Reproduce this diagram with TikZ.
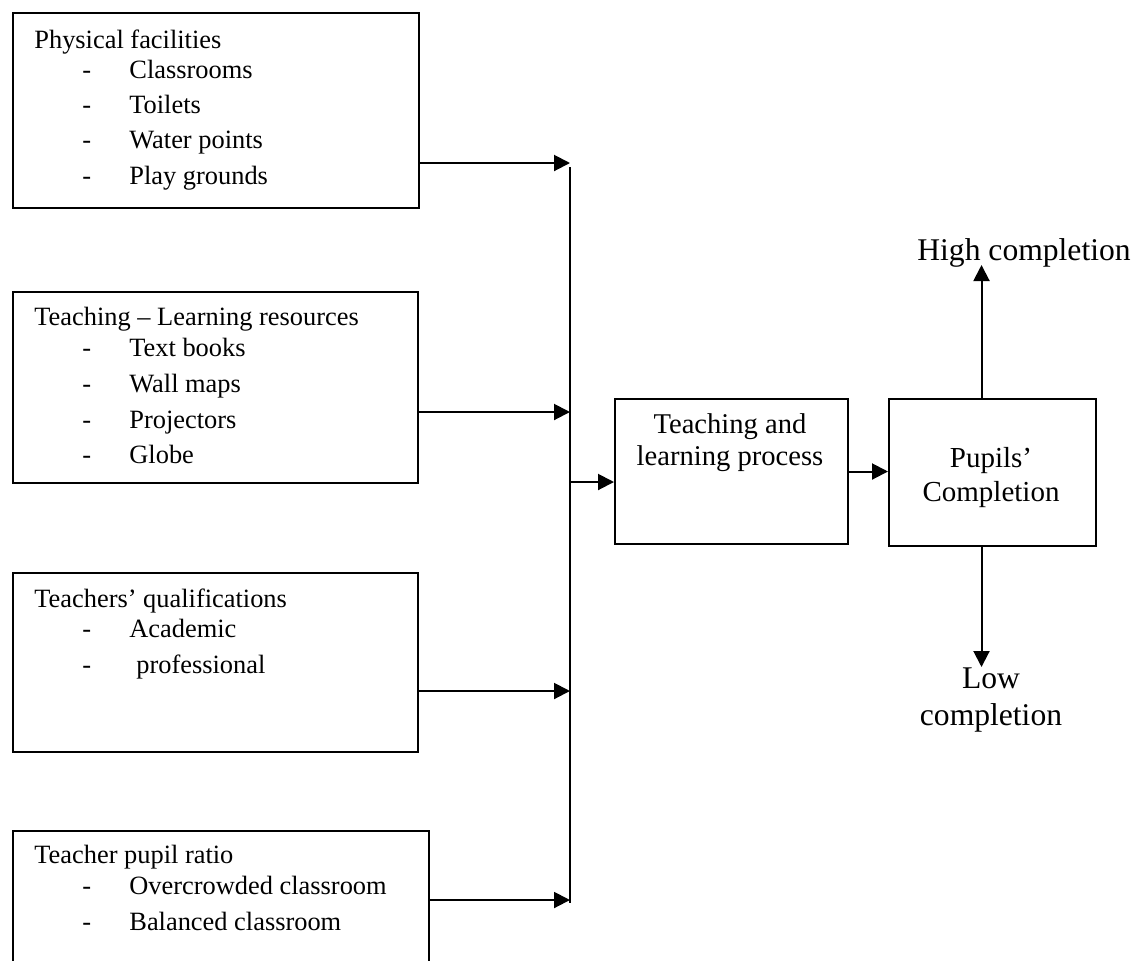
\documentclass[tikz,border=0pt]{standalone}
\usepackage{fontspec}
\setmainfont{Liberation Serif}
\usetikzlibrary{arrows.meta}
\begin{document}
\begin{tikzpicture}[x=0.5pt,y=-0.5pt,
  box/.style={draw,line width=1pt,anchor=north west,inner sep=0pt,rectangle},
  txt/.style={inner sep=0pt,anchor=base west,font=\fontsize{13.2}{16}\selectfont},
  ptxt/.style={inner sep=0pt,anchor=base,font=\fontsize{14.3}{17}\selectfont},
  ctxt/.style={inner sep=0pt,anchor=base,font=\fontsize{14.5}{17}\selectfont},
  big/.style={inner sep=0pt,anchor=base,font=\fontsize{15.8}{19}\selectfont},
  arr/.style={line width=1pt,-{Triangle[length=8pt,width=8pt]}},
  ln/.style={line width=1pt}]
\useasboundingbox (0,0) rectangle (1145,960);
\clip (0,0) rectangle (1145,960);

% boxes
\node[box,minimum width=203pt,minimum height=97.5pt] (b1) at (12,12) {};
\node[box,minimum width=202.5pt,minimum height=95.5pt] (b2) at (12,291) {};
\node[box,minimum width=202.5pt,minimum height=89.5pt] (b3) at (12,572) {};
\node[box,minimum width=208pt,minimum height=80pt] (b4) at (12,830) {};
\node[box,minimum width=116.5pt,minimum height=72.5pt] (b5) at (614,398) {};
\node[box,minimum width=103.5pt,minimum height=73.5pt] (b6) at (888,398) {};

% box 1 text
\node[txt] (t1) at (34,48) {Physical facilities};
\node[txt] (d1a) at (82,78) {-};  \node[txt] (t1a) at (129,78) {Classrooms};
\node[txt] (d1b) at (82,113) {-}; \node[txt] (t1b) at (129,113) {Toilets};
\node[txt] (d1c) at (82,148) {-}; \node[txt] (t1c) at (129,148) {Water points};
\node[txt] (d1d) at (82,184) {-}; \node[txt] (t1d) at (129,184) {Play grounds};

% box 2 text
\node[txt] (t2) at (34,325) {Teaching – Learning resources};
\node[txt] (d2a) at (82,356) {-}; \node[txt] (t2a) at (129,356) {Text books};
\node[txt] (d2b) at (82,392) {-}; \node[txt] (t2b) at (129,392) {Wall maps};
\node[txt] (d2c) at (82,428) {-}; \node[txt] (t2c) at (129,428) {Projectors};
\node[txt] (d2d) at (82,463) {-}; \node[txt] (t2d) at (129,463) {Globe};

% box 3 text
\node[txt] (t3) at (34,607) {Teachers’ qualifications};
\node[txt] (d3a) at (82,637) {-}; \node[txt] (t3a) at (129,637) {Academic};
\node[txt] (d3b) at (82,673) {-}; \node[txt] (t3b) at (136,673) {professional};

% box 4 text
\node[txt] (t4) at (34,863) {Teacher pupil ratio};
\node[txt] (d4a) at (82,894) {-}; \node[txt] (t4a) at (129,894) {Overcrowded classroom};
\node[txt] (d4b) at (82,930) {-}; \node[txt] (t4b) at (129,930) {Balanced classroom};

% box 5 / 6 text
\node[ptxt] (t5a) at (730,433) {Teaching and};
\node[ptxt] (t5b) at (730,465) {learning process};
\node[ctxt] (t6a) at (991,467) {Pupils’};
\node[ctxt] (t6b) at (991,501) {Completion};

% outcome labels
\node[big] (hi) at (1024,260) {High completion};
\node[big] (lo1) at (991,688) {Low};
\node[big] (lo2) at (991,725) {completion};

% junction coordinates
\coordinate (j1) at (570,163);
\coordinate (j2) at (570,412);
\coordinate (j3) at (570,691);
\coordinate (j4) at (570,900);
\coordinate (jm) at (570,482);
\coordinate (vtop) at (570,167);
\coordinate (vbot) at (570,903);
\coordinate (uptip) at (981.5,265);
\coordinate (dntip) at (981.5,667);

% connectors
\draw[arr] (b1.east |- j1) -- (j1);
\draw[arr] (b2.east |- j2) -- (j2);
\draw[arr] (b3.east |- j3) -- (j3);
\draw[arr] (b4.east |- j4) -- (j4);
\draw[ln] (vtop) -- (vbot);
\draw[arr] (jm) -- (b5.west |- jm);
\draw[arr] (b5.east) -- (b5.east -| b6.west);
\draw[arr] (b6.north -| uptip) -- (uptip);
\draw[arr] (b6.south -| dntip) -- (dntip);
\end{tikzpicture}
\end{document}
